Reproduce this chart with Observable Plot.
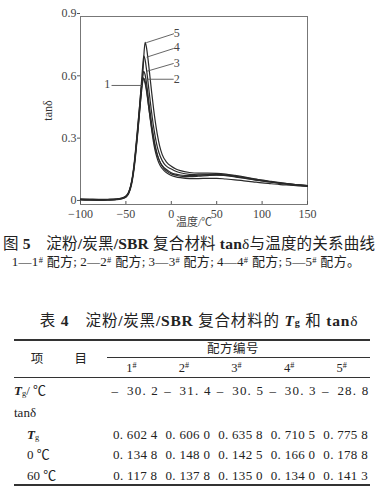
<!DOCTYPE html>
<html><head><meta charset="utf-8">
<script src="https://cdn.jsdelivr.net/npm/d3@7"></script>
<script src="https://cdn.jsdelivr.net/npm/@observablehq/plot@0.6"></script>
<style>
body{margin:0;background:#fff;}
#page{position:relative;width:377px;height:486px;overflow:hidden;font-family:"Liberation Serif","Noto Sans CJK SC",serif;color:#222;}
#chart{position:absolute;left:0;top:0;}
.t{position:absolute;white-space:nowrap;line-height:16px;}
.c{transform:translateX(-50%);}
.rule{position:absolute;background:#333;}
sup{font-size:65%;vertical-align:top;position:relative;top:-2px;}
sub{font-size:65%;vertical-align:bottom;position:relative;top:2px;}
</style></head><body><div id="page"><div id="chart"></div></div>
<script>
// ---- chart data ----
const curve1 = [[-100,0.018],[-90,0.017],[-80,0.016],[-70,0.017],[-60,0.019],[-55,0.023],[-50,0.032],[-47,0.05],[-45,0.075],[-43,0.115],[-41,0.175],[-39,0.255],[-37,0.345],[-35,0.44],[-33,0.53],[-31.5,0.585],[-30.2,0.6024],[-29,0.59],[-27,0.54],[-25,0.47],[-23,0.4],[-21,0.335],[-19,0.28],[-17,0.24],[-15,0.21],[-12,0.18],[-8,0.158],[-4,0.144],[0,0.1348],[5,0.128],[10,0.124],[20,0.12],[30,0.12],[40,0.121],[50,0.121],[60,0.1178],[70,0.114],[80,0.109],[90,0.104],[100,0.099],[110,0.095],[120,0.091],[130,0.088],[140,0.085],[150,0.082]];
const curve2 = [[-100,0.022],[-90,0.021],[-80,0.02],[-70,0.02],[-60,0.022],[-55,0.026],[-50,0.036],[-47,0.055],[-45,0.082],[-43,0.125],[-41,0.19],[-39,0.275],[-37,0.37],[-35,0.465],[-33,0.56],[-31.4,0.606],[-30,0.597],[-28,0.56],[-26,0.5],[-24,0.435],[-22,0.375],[-20,0.32],[-18,0.275],[-16,0.24],[-13,0.205],[-10,0.182],[-5,0.162],[0,0.148],[5,0.141],[10,0.137],[20,0.134],[30,0.136],[40,0.139],[50,0.14],[60,0.1378],[70,0.132],[80,0.125],[90,0.118],[100,0.111],[110,0.105],[120,0.099],[130,0.094],[140,0.09],[150,0.086]];
const curve3 = [[-100,0.02],[-90,0.019],[-80,0.018],[-70,0.019],[-60,0.021],[-55,0.025],[-50,0.034],[-47,0.052],[-45,0.078],[-43,0.12],[-41,0.18],[-39,0.26],[-37,0.35],[-35,0.45],[-33,0.55],[-31.5,0.61],[-30.5,0.6358],[-29,0.622],[-27,0.57],[-25,0.5],[-23,0.43],[-21,0.365],[-19,0.31],[-17,0.265],[-15,0.23],[-12,0.195],[-8,0.168],[-4,0.152],[0,0.1425],[5,0.136],[10,0.132],[20,0.129],[30,0.131],[40,0.134],[50,0.136],[60,0.135],[70,0.13],[80,0.123],[90,0.116],[100,0.109],[110,0.103],[120,0.097],[130,0.092],[140,0.088],[150,0.084]];
const curve4 = [[-100,0.019],[-90,0.018],[-80,0.017],[-70,0.018],[-60,0.02],[-55,0.024],[-50,0.033],[-47,0.051],[-45,0.077],[-43,0.118],[-41,0.18],[-39,0.265],[-37,0.36],[-35,0.465],[-33,0.575],[-31.5,0.66],[-30.3,0.7105],[-29,0.695],[-27,0.635],[-25,0.56],[-23,0.485],[-21,0.415],[-19,0.355],[-17,0.305],[-15,0.265],[-12,0.225],[-8,0.192],[-4,0.175],[0,0.166],[5,0.155],[10,0.148],[20,0.14],[30,0.138],[40,0.138],[50,0.137],[60,0.134],[70,0.128],[80,0.122],[90,0.115],[100,0.108],[110,0.102],[120,0.097],[130,0.092],[140,0.088],[150,0.084]];
const curve5 = [[-100,0.017],[-90,0.016],[-80,0.015],[-70,0.016],[-60,0.018],[-55,0.022],[-50,0.03],[-47,0.047],[-45,0.07],[-43,0.108],[-41,0.165],[-39,0.245],[-37,0.335],[-35,0.435],[-33,0.54],[-31,0.65],[-29.8,0.74],[-28.8,0.7758],[-27.5,0.755],[-25.5,0.69],[-23.5,0.61],[-21.5,0.53],[-19.5,0.455],[-17.5,0.39],[-15.5,0.335],[-13,0.28],[-10,0.235],[-5,0.198],[0,0.1788],[5,0.166],[10,0.158],[20,0.149],[30,0.146],[40,0.146],[50,0.145],[60,0.1413],[70,0.135],[80,0.128],[90,0.12],[100,0.112],[110,0.106],[120,0.1],[130,0.094],[140,0.09],[150,0.086]];
const curves = [curve1, curve2, curve3, curve4, curve5];
const seriesNames = ["1","2","3","4","5"];
// leader lines (data coordinates: temperature, tanδ)
const leaderStart = [[-65.8,0.568],[-27.2,0.598],[-27.2,0.636],[-27.2,0.704],[-27.6,0.774]];
const leaderEnd   = [[-32,0.568],[2.6,0.598],[2.6,0.674],[2.6,0.746],[2.9,0.817]];
const labelPos    = [[-70.5,0.572],[6,0.598],[6,0.677],[6,0.752],[6,0.822]];
const xTicks = [-100,-50,0,50,100,150];
const yTicks = [0,0.3,0.6,0.9];
const xLabel = "温度/℃";
const yLabel = "tanδ";

// ---- table data ----
const colHeads = ["1","2","3","4","5"];
const tgValues = [-30.2,-31.4,-30.5,-30.3,-28.8];
const tanAtTg  = [0.6024,0.6060,0.6358,0.7105,0.7758];
const tanAt0   = [0.1348,0.1480,0.1425,0.1660,0.1788];
const tanAt60  = [0.1178,0.1378,0.1350,0.1340,0.1413];

const lineData = curves.flatMap((c,i)=>c.map(([t,v])=>({t,v,s:seriesNames[i]})));
const leaders = seriesNames.map((s,i)=>({s,x1:leaderStart[i][0],y1:leaderStart[i][1],x2:leaderEnd[i][0],y2:leaderEnd[i][1],lx:labelPos[i][0],ly:labelPos[i][1]}));
const minus = d => d<0 ? "−"+Math.abs(d) : String(d);

const chart = Plot.plot({
  width:377, height:235,
  marginLeft:80, marginRight:70, marginTop:16, marginBottom:31,
  style:{fontFamily:"Liberation Serif, Noto Sans CJK SC", fontSize:"12px", color:"#333", background:"white"},
  x:{domain:[-100,150]},
  y:{domain:[-0.005,0.9]},
  marks:[
    Plot.frame({stroke:"#777"}),
    Plot.axisY({ticks:yTicks, tickSize:3, tickPadding:1, dy:-3, tickFormat:d=>d===0?"0":d.toFixed(1), label:null, stroke:"#555", fill:"#444"}),
    Plot.axisY({ticks:[], label:yLabel, labelAnchor:"center", labelArrow:"none", labelOffset:37, fill:"#333"}),
    Plot.axisX({ticks:xTicks, tickSize:0, tickPadding:5, tickFormat:minus, label:null, fill:"#444"}),
    Plot.axisX({ticks:[], label:xLabel, labelAnchor:"center", labelArrow:"none", labelOffset:21, fontSize:11, fill:"#444"}),
    Plot.tickX(xTicks,{x:d=>d, insetTop:185, stroke:"#555"}),
    Plot.line(lineData,{x:"t",y:"v",z:"s",stroke:"#2a2a2a",strokeWidth:1.2,curve:"monotone-x"}),
    Plot.link(leaders,{x1:"x1",y1:"y1",x2:"x2",y2:"y2",stroke:"#555",strokeWidth:0.9}),
    Plot.text(leaders,{x:"lx",y:"ly",text:"s",fill:"#444",fontSize:12})
  ]
});
document.getElementById("chart").appendChild(chart);

// ---- captions & table ----
const page = document.getElementById("page");
function addText(html, x, yCenter, size, opts={}){
  const d = document.createElement("div");
  d.className = "t" + (opts.center ? " c" : "");
  d.innerHTML = html;
  d.style.left = x+"px";
  d.style.top = (yCenter-8)+"px";
  d.style.fontSize = size+"px";
  if (opts.weight) d.style.fontWeight = opts.weight;
  if (opts.ls) d.style.letterSpacing = opts.ls;
  page.appendChild(d);
  return d;
}
function addRule(x1, x2, y, h){
  const r = document.createElement("div");
  r.className = "rule";
  r.style.left = x1+"px"; r.style.width = (x2-x1)+"px";
  r.style.top = y+"px"; r.style.height = h+"px";
  page.appendChild(r);
}
addText('图 <b>5</b>&emsp;淀粉<b>/</b>炭黑<b>/SBR</b> 复合材料 <b>tan</b>δ与温度的关系曲线', 189, 244, 15.5, {center:true, ls:"0.2px"});
addText(seriesNames.map(s=>`${s}—${s}<sup>#</sup> 配方`).join(";&thinsp;")+"。", 186, 262, 13, {center:true, ls:"0.3px"});
addText('表 <b>4</b>&emsp;淀粉<b>/</b>炭黑<b>/SBR</b> 复合材料的 <b><i>T</i><sub>g</sub></b> 和 <b>tan</b>δ', 199, 321, 15.5, {center:true, ls:"0.8px"});

const tableL = 14, tableR = 370, colL = 107, colW = (tableR-colL)/5;
const colCenter = i => colL + colW*(i+0.5);
addRule(tableL, tableR, 339, 1.6);
addText("配方编号", 233, 349, 12.5, {center:true, ls:"0.5px"});
addRule(colL, tableR, 357, 0.8);
addText("项&emsp;&emsp;&ensp;目", 59, 359, 12.5, {center:true});
colHeads.forEach((h,i)=>addText(`${h}<sup>#</sup>`, colCenter(i)-2, 368, 12.5, {center:true}));
addRule(tableL, tableR, 377, 1.4);

const fmtTg = v => (v<0?"–&ensp;":"")+Math.abs(v).toFixed(1).replace(".", ".&nbsp;");
const fmtTan = v => { const s = v.toFixed(4); return s[0]+". "+s.slice(2,5)+" "+s.slice(5); };
const rows = [
  {label:'<b><i>T</i></b><sub>g</sub>/ ℃', x:14, y:391, vals:tgValues.map(fmtTg), ls:"1.2px"},
  {label:'tanδ', x:14, y:413, vals:null},
  {label:'<b><i>T</i></b><sub>g</sub>', x:27, y:435, vals:tanAtTg.map(fmtTan), ls:"0.3px"},
  {label:'0 ℃', x:27, y:455, vals:tanAt0.map(fmtTan), ls:"0.3px"},
  {label:'60 ℃', x:27, y:476, vals:tanAt60.map(fmtTan), ls:"0.3px"}
];
rows.forEach(r=>{
  addText(r.label, r.x, r.y, 13);
  if (r.vals) r.vals.forEach((v,i)=>addText(v, colCenter(i)+2, r.y, 13, {center:true, ls:r.ls}));
});
addRule(tableL, tableR, 484, 1.6);
</script></body></html>
